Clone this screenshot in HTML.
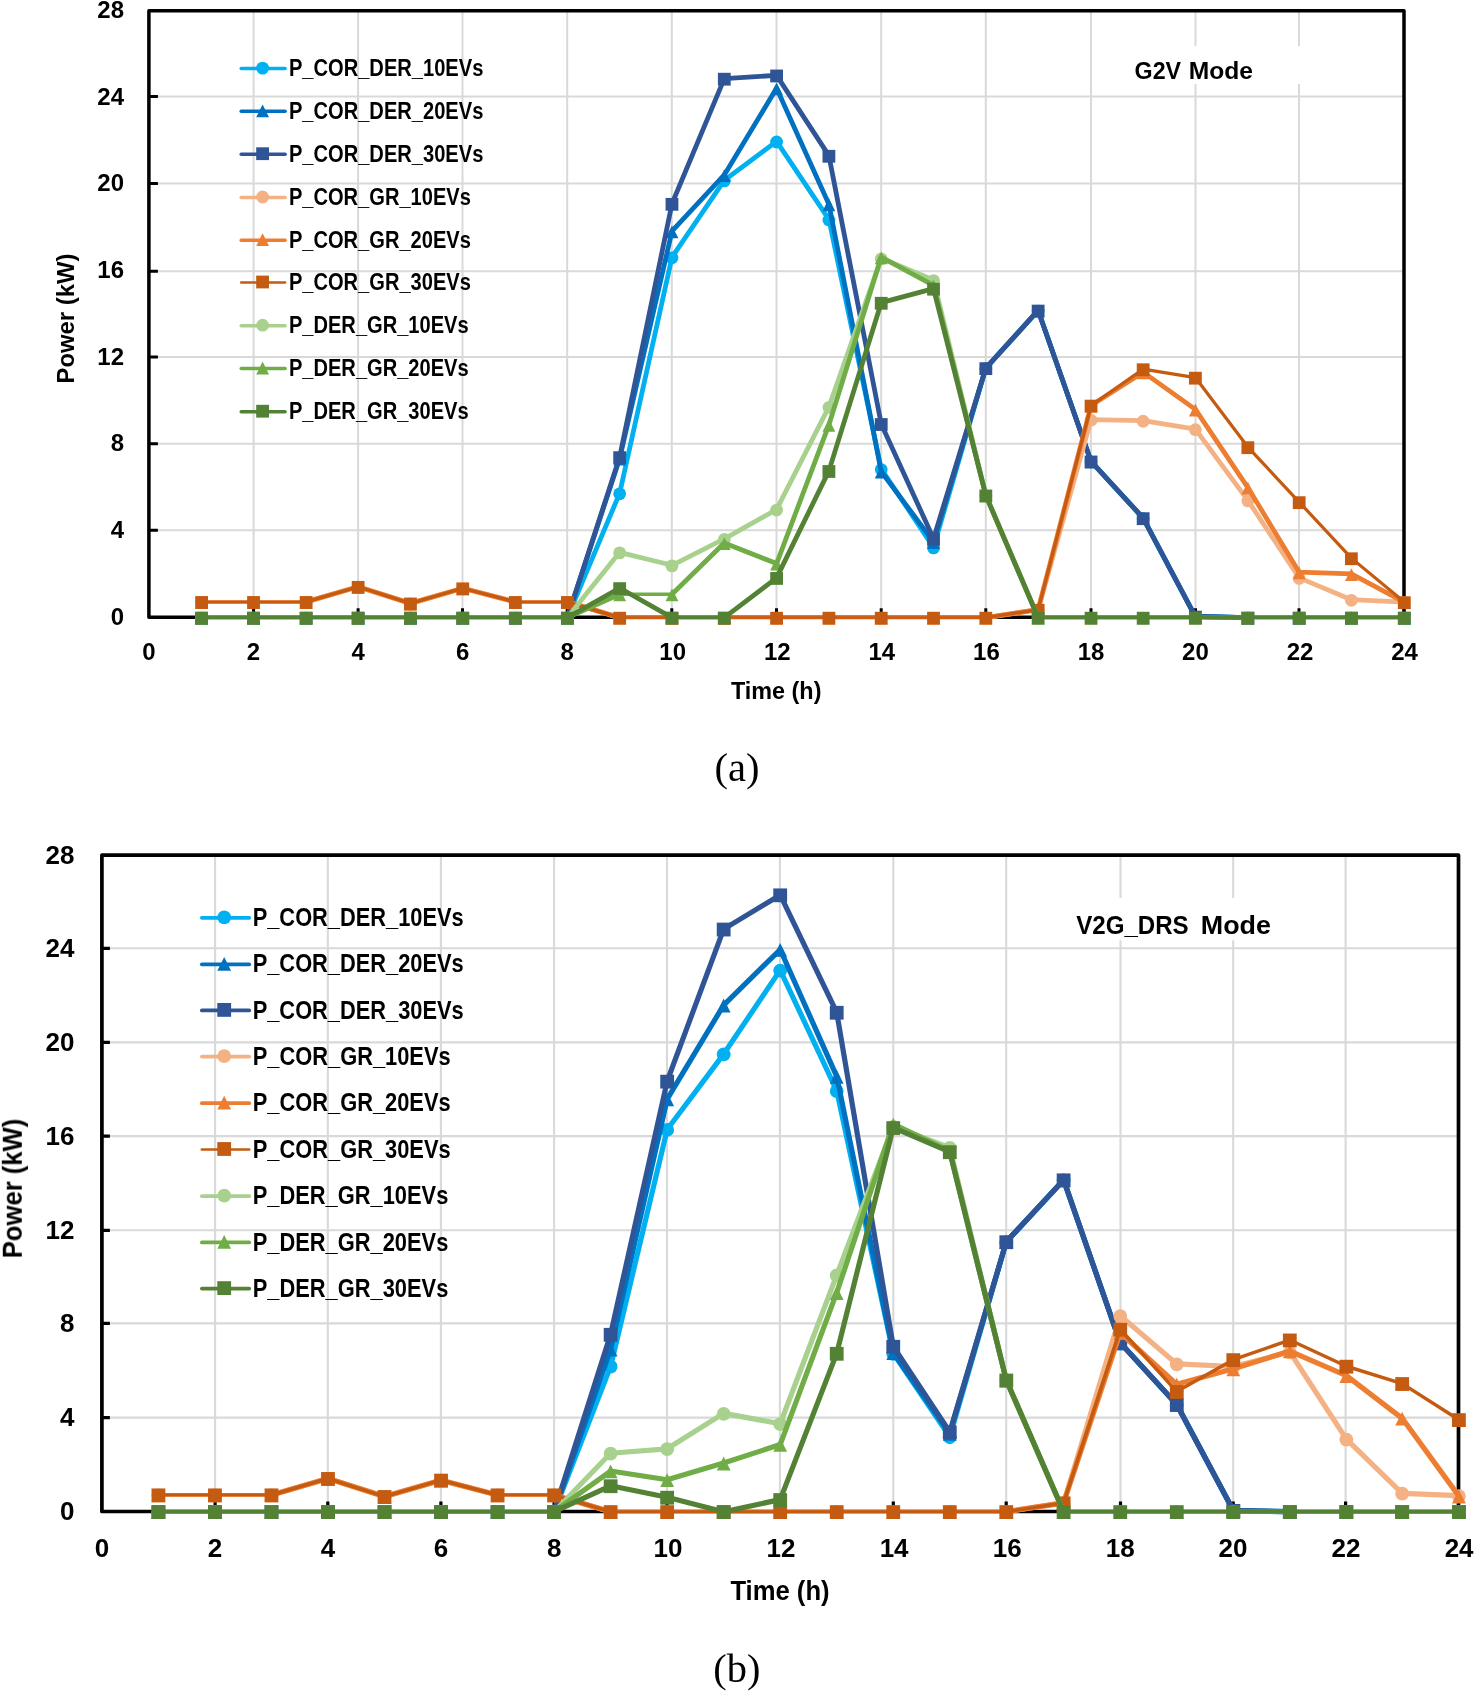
<!DOCTYPE html>
<html><head><meta charset="utf-8"><title>Power flows: G2V and V2G_DRS modes</title>
<style>
html,body{margin:0;padding:0;background:#fff;}
body{width:1474px;height:1691px;overflow:hidden;font-family:"Liberation Sans",sans-serif;}
svg{display:block;}
text{fill:#000;}

</style></head>
<body>
<svg width="1474" height="1691" viewBox="0 0 1474 1691">
<rect width="1474" height="1691" fill="#fff"/>
<g id="chart-a">
<path d="M253.6 10.85V617.3M358.1 10.85V617.3M462.5 10.85V617.3M567.2 10.85V617.3M671.8 10.85V617.3M776.5 10.85V617.3M881.2 10.85V617.3M985.8 10.85V617.3M1091 10.85V617.3M1195.5 10.85V617.3M1299 10.85V617.3M148.9 530.3H1404M148.9 443.7H1404M148.9 356.9H1404M148.9 271.25H1404M148.9 183.45H1404M148.9 96.4H1404" stroke="#D9D9D9" stroke-width="2" fill="none"/>
<rect x="1122" y="46.2" width="200" height="38" fill="#fff"/>
<rect x="148.9" y="10.85" width="1255.1" height="606.45" fill="none" stroke="#000" stroke-width="3.5" stroke-linejoin="round"/>
<path d="M253.6 617.3V608.3M358.1 617.3V608.3M462.5 617.3V608.3M567.2 617.3V608.3M671.8 617.3V608.3M776.5 617.3V608.3M881.2 617.3V608.3M985.8 617.3V608.3M1091 617.3V608.3M1195.5 617.3V608.3M1299 617.3V608.3M148.9 530.3H157.9M148.9 443.7H157.9M148.9 356.9H157.9M148.9 271.25H157.9M148.9 183.45H157.9M148.9 96.4H157.9" stroke="#000" stroke-width="3" fill="none"/>
<g fill="none" stroke="#00B0F0" stroke-linejoin="round" stroke-linecap="round">
<polyline points="201.61,617.6 253.52,617.6 306.12,617.6 358.13,617.6 410.44,617.6 462.75,617.6 515.36,617.6 567.37,617.6" stroke-width="2.6"/>
<polyline points="567.37,617.6 619.67,493.19 671.98,257.21 724.29,180.35 776.6,141.38 828.91,219.32 881.22,468.95 933.52,547.32 985.83,368.06 1038.14,310.47 1091.05,461.37 1143.16,518.09 1195.37,616.52 1247.88,617.6" stroke-width="4.8"/>
<polyline points="1247.88,617.6 1299.18,617.6 1351.39,617.6 1404.3,617.6" stroke-width="2.6"/>
</g><g>
<circle cx="201.61" cy="618.2" r="6.4" fill="#00B0F0"/>
<circle cx="253.52" cy="618.2" r="6.4" fill="#00B0F0"/>
<circle cx="306.12" cy="618.2" r="6.4" fill="#00B0F0"/>
<circle cx="358.13" cy="618.2" r="6.4" fill="#00B0F0"/>
<circle cx="410.44" cy="618.2" r="6.4" fill="#00B0F0"/>
<circle cx="462.75" cy="618.2" r="6.4" fill="#00B0F0"/>
<circle cx="515.36" cy="618.2" r="6.4" fill="#00B0F0"/>
<circle cx="567.37" cy="618.2" r="6.4" fill="#00B0F0"/>
<circle cx="619.67" cy="493.8" r="6.4" fill="#00B0F0"/>
<circle cx="671.98" cy="257.81" r="6.4" fill="#00B0F0"/>
<circle cx="724.29" cy="180.95" r="6.4" fill="#00B0F0"/>
<circle cx="776.6" cy="141.98" r="6.4" fill="#00B0F0"/>
<circle cx="828.91" cy="219.92" r="6.4" fill="#00B0F0"/>
<circle cx="881.22" cy="469.55" r="6.4" fill="#00B0F0"/>
<circle cx="933.52" cy="547.92" r="6.4" fill="#00B0F0"/>
<circle cx="985.83" cy="368.66" r="6.4" fill="#00B0F0"/>
<circle cx="1038.14" cy="311.07" r="6.4" fill="#00B0F0"/>
<circle cx="1091.05" cy="461.97" r="6.4" fill="#00B0F0"/>
<circle cx="1143.16" cy="518.69" r="6.4" fill="#00B0F0"/>
<circle cx="1195.37" cy="617.12" r="6.4" fill="#00B0F0"/>
<circle cx="1247.88" cy="618.2" r="6.4" fill="#00B0F0"/>
<circle cx="1299.18" cy="618.2" r="6.4" fill="#00B0F0"/>
<circle cx="1351.39" cy="618.2" r="6.4" fill="#00B0F0"/>
<circle cx="1404.3" cy="618.2" r="6.4" fill="#00B0F0"/>
</g>
<g fill="none" stroke="#0070C0" stroke-linejoin="round" stroke-linecap="round">
<polyline points="201.61,617.6 253.52,617.6 306.12,617.6 358.13,617.6 410.44,617.6 462.75,617.6 515.36,617.6 567.37,617.6" stroke-width="2.6"/>
<polyline points="567.37,617.6 619.67,458.56 671.98,231.23 724.29,174.94 776.6,88.34 828.91,204.17 881.22,471.55 933.52,541.91 985.83,368.06 1038.14,310.47 1091.05,461.37 1143.16,518.09 1195.37,616.52 1247.88,617.6" stroke-width="4.8"/>
<polyline points="1247.88,617.6 1299.18,617.6 1351.39,617.6 1404.3,617.6" stroke-width="2.6"/>
</g><g>
<path d="M201.61 611.8L208.01 624.6L195.21 624.6Z" fill="#0070C0"/>
<path d="M253.52 611.8L259.92 624.6L247.12 624.6Z" fill="#0070C0"/>
<path d="M306.12 611.8L312.52 624.6L299.73 624.6Z" fill="#0070C0"/>
<path d="M358.13 611.8L364.53 624.6L351.73 624.6Z" fill="#0070C0"/>
<path d="M410.44 611.8L416.84 624.6L404.04 624.6Z" fill="#0070C0"/>
<path d="M462.75 611.8L469.15 624.6L456.35 624.6Z" fill="#0070C0"/>
<path d="M515.36 611.8L521.76 624.6L508.96 624.6Z" fill="#0070C0"/>
<path d="M567.37 611.8L573.77 624.6L560.97 624.6Z" fill="#0070C0"/>
<path d="M619.67 452.76L626.07 465.56L613.27 465.56Z" fill="#0070C0"/>
<path d="M671.98 225.43L678.38 238.23L665.58 238.23Z" fill="#0070C0"/>
<path d="M724.29 169.14L730.69 181.94L717.89 181.94Z" fill="#0070C0"/>
<path d="M776.6 82.54L783 95.34L770.2 95.34Z" fill="#0070C0"/>
<path d="M828.91 198.37L835.31 211.17L822.51 211.17Z" fill="#0070C0"/>
<path d="M881.22 465.75L887.62 478.55L874.82 478.55Z" fill="#0070C0"/>
<path d="M933.52 536.11L939.92 548.91L927.12 548.91Z" fill="#0070C0"/>
<path d="M985.83 362.26L992.23 375.06L979.43 375.06Z" fill="#0070C0"/>
<path d="M1038.14 304.67L1044.54 317.47L1031.74 317.47Z" fill="#0070C0"/>
<path d="M1091.05 455.57L1097.45 468.37L1084.65 468.37Z" fill="#0070C0"/>
<path d="M1143.16 512.29L1149.56 525.09L1136.76 525.09Z" fill="#0070C0"/>
<path d="M1195.37 610.72L1201.77 623.52L1188.97 623.52Z" fill="#0070C0"/>
<path d="M1247.88 611.8L1254.28 624.6L1241.47 624.6Z" fill="#0070C0"/>
<path d="M1299.18 611.8L1305.58 624.6L1292.78 624.6Z" fill="#0070C0"/>
<path d="M1351.39 611.8L1357.79 624.6L1344.99 624.6Z" fill="#0070C0"/>
<path d="M1404.3 611.8L1410.7 624.6L1397.9 624.6Z" fill="#0070C0"/>
</g>
<g fill="none" stroke="#2F5597" stroke-linejoin="round" stroke-linecap="round">
<polyline points="201.61,617.6 253.52,617.6 306.12,617.6 358.13,617.6 410.44,617.6 462.75,617.6 515.36,617.6 567.37,617.6" stroke-width="2.6"/>
<polyline points="567.37,617.6 619.67,457.04 671.98,203.73 724.29,78.6 776.6,75.35 828.91,155.67 881.22,423.91 933.52,538.66 985.83,368.06 1038.14,310.47 1091.05,461.37 1143.16,518.09 1195.37,616.52 1247.88,617.6" stroke-width="4.8"/>
<polyline points="1247.88,617.6 1299.18,617.6 1351.39,617.6 1404.3,617.6" stroke-width="2.6"/>
</g><g>
<rect x="195.21" y="611.8" width="12.8" height="12.8" fill="#2F5597"/>
<rect x="247.12" y="611.8" width="12.8" height="12.8" fill="#2F5597"/>
<rect x="299.73" y="611.8" width="12.8" height="12.8" fill="#2F5597"/>
<rect x="351.73" y="611.8" width="12.8" height="12.8" fill="#2F5597"/>
<rect x="404.04" y="611.8" width="12.8" height="12.8" fill="#2F5597"/>
<rect x="456.35" y="611.8" width="12.8" height="12.8" fill="#2F5597"/>
<rect x="508.96" y="611.8" width="12.8" height="12.8" fill="#2F5597"/>
<rect x="560.97" y="611.8" width="12.8" height="12.8" fill="#2F5597"/>
<rect x="613.27" y="451.24" width="12.8" height="12.8" fill="#2F5597"/>
<rect x="665.58" y="197.93" width="12.8" height="12.8" fill="#2F5597"/>
<rect x="717.89" y="72.8" width="12.8" height="12.8" fill="#2F5597"/>
<rect x="770.2" y="69.55" width="12.8" height="12.8" fill="#2F5597"/>
<rect x="822.51" y="149.87" width="12.8" height="12.8" fill="#2F5597"/>
<rect x="874.82" y="418.12" width="12.8" height="12.8" fill="#2F5597"/>
<rect x="927.12" y="532.86" width="12.8" height="12.8" fill="#2F5597"/>
<rect x="979.43" y="362.26" width="12.8" height="12.8" fill="#2F5597"/>
<rect x="1031.74" y="304.67" width="12.8" height="12.8" fill="#2F5597"/>
<rect x="1084.65" y="455.57" width="12.8" height="12.8" fill="#2F5597"/>
<rect x="1136.76" y="512.29" width="12.8" height="12.8" fill="#2F5597"/>
<rect x="1188.97" y="610.72" width="12.8" height="12.8" fill="#2F5597"/>
<rect x="1241.47" y="611.8" width="12.8" height="12.8" fill="#2F5597"/>
<rect x="1292.78" y="611.8" width="12.8" height="12.8" fill="#2F5597"/>
<rect x="1344.99" y="611.8" width="12.8" height="12.8" fill="#2F5597"/>
<rect x="1397.9" y="611.8" width="12.8" height="12.8" fill="#2F5597"/>
</g>
<g fill="none" stroke="#F4B183" stroke-linejoin="round" stroke-linecap="round">
<polyline points="201.61,601.88 253.52,601.88 306.12,601.88" stroke-width="3.5"/>
<polyline points="306.12,601.88 358.13,586.72 410.44,603.39 462.75,588.24 515.36,601.88" stroke-width="4.8"/>
<polyline points="515.36,601.88 567.37,601.88" stroke-width="3.5"/>
<polyline points="567.37,601.88 619.67,617.6" stroke-width="4.8"/>
<polyline points="619.67,617.6 671.98,617.6 724.29,617.6 776.6,617.6 828.91,617.6 881.22,617.6 933.52,617.6 985.83,617.6" stroke-width="3.5"/>
<polyline points="985.83,617.6 1038.14,609.67 1091.05,419.59 1143.16,420.67 1195.37,429.11 1247.88,500.34 1299.18,577.85 1351.39,599.71 1404.3,602.09" stroke-width="4.8"/>
</g><g>
<circle cx="201.61" cy="602.48" r="6.4" fill="#F4B183"/>
<circle cx="253.52" cy="602.48" r="6.4" fill="#F4B183"/>
<circle cx="306.12" cy="602.48" r="6.4" fill="#F4B183"/>
<circle cx="358.13" cy="587.32" r="6.4" fill="#F4B183"/>
<circle cx="410.44" cy="603.99" r="6.4" fill="#F4B183"/>
<circle cx="462.75" cy="588.84" r="6.4" fill="#F4B183"/>
<circle cx="515.36" cy="602.48" r="6.4" fill="#F4B183"/>
<circle cx="567.37" cy="602.48" r="6.4" fill="#F4B183"/>
<circle cx="619.67" cy="618.2" r="6.4" fill="#F4B183"/>
<circle cx="671.98" cy="618.2" r="6.4" fill="#F4B183"/>
<circle cx="724.29" cy="618.2" r="6.4" fill="#F4B183"/>
<circle cx="776.6" cy="618.2" r="6.4" fill="#F4B183"/>
<circle cx="828.91" cy="618.2" r="6.4" fill="#F4B183"/>
<circle cx="881.22" cy="618.2" r="6.4" fill="#F4B183"/>
<circle cx="933.52" cy="618.2" r="6.4" fill="#F4B183"/>
<circle cx="985.83" cy="618.2" r="6.4" fill="#F4B183"/>
<circle cx="1038.14" cy="610.27" r="6.4" fill="#F4B183"/>
<circle cx="1091.05" cy="420.19" r="6.4" fill="#F4B183"/>
<circle cx="1143.16" cy="421.27" r="6.4" fill="#F4B183"/>
<circle cx="1195.37" cy="429.71" r="6.4" fill="#F4B183"/>
<circle cx="1247.88" cy="500.94" r="6.4" fill="#F4B183"/>
<circle cx="1299.18" cy="578.45" r="6.4" fill="#F4B183"/>
<circle cx="1351.39" cy="600.31" r="6.4" fill="#F4B183"/>
<circle cx="1404.3" cy="602.69" r="6.4" fill="#F4B183"/>
</g>
<g fill="none" stroke="#ED7D31" stroke-linejoin="round" stroke-linecap="round">
<polyline points="201.61,601.88 253.52,601.88 306.12,601.88" stroke-width="3.5"/>
<polyline points="306.12,601.88 358.13,586.72 410.44,603.39 462.75,588.24 515.36,601.88" stroke-width="4.8"/>
<polyline points="515.36,601.88 567.37,601.88" stroke-width="3.5"/>
<polyline points="567.37,601.88 619.67,617.6" stroke-width="4.8"/>
<polyline points="619.67,617.6 671.98,617.6 724.29,617.6 776.6,617.6 828.91,617.6 881.22,617.6 933.52,617.6 985.83,617.6" stroke-width="3.5"/>
<polyline points="985.83,617.6 1038.14,609.67 1091.05,405.51 1143.16,372.17 1195.37,409.41 1247.88,487.57 1299.18,572.22 1351.39,573.95 1404.3,602.09" stroke-width="4.8"/>
</g><g>
<path d="M201.61 596.08L208.01 608.88L195.21 608.88Z" fill="#ED7D31"/>
<path d="M253.52 596.08L259.92 608.88L247.12 608.88Z" fill="#ED7D31"/>
<path d="M306.12 596.08L312.52 608.88L299.73 608.88Z" fill="#ED7D31"/>
<path d="M358.13 580.92L364.53 593.72L351.73 593.72Z" fill="#ED7D31"/>
<path d="M410.44 597.59L416.84 610.39L404.04 610.39Z" fill="#ED7D31"/>
<path d="M462.75 582.44L469.15 595.24L456.35 595.24Z" fill="#ED7D31"/>
<path d="M515.36 596.08L521.76 608.88L508.96 608.88Z" fill="#ED7D31"/>
<path d="M567.37 596.08L573.77 608.88L560.97 608.88Z" fill="#ED7D31"/>
<path d="M619.67 611.8L626.07 624.6L613.27 624.6Z" fill="#ED7D31"/>
<path d="M671.98 611.8L678.38 624.6L665.58 624.6Z" fill="#ED7D31"/>
<path d="M724.29 611.8L730.69 624.6L717.89 624.6Z" fill="#ED7D31"/>
<path d="M776.6 611.8L783 624.6L770.2 624.6Z" fill="#ED7D31"/>
<path d="M828.91 611.8L835.31 624.6L822.51 624.6Z" fill="#ED7D31"/>
<path d="M881.22 611.8L887.62 624.6L874.82 624.6Z" fill="#ED7D31"/>
<path d="M933.52 611.8L939.92 624.6L927.12 624.6Z" fill="#ED7D31"/>
<path d="M985.83 611.8L992.23 624.6L979.43 624.6Z" fill="#ED7D31"/>
<path d="M1038.14 603.87L1044.54 616.67L1031.74 616.67Z" fill="#ED7D31"/>
<path d="M1091.05 399.71L1097.45 412.51L1084.65 412.51Z" fill="#ED7D31"/>
<path d="M1143.16 366.37L1149.56 379.17L1136.76 379.17Z" fill="#ED7D31"/>
<path d="M1195.37 403.61L1201.77 416.41L1188.97 416.41Z" fill="#ED7D31"/>
<path d="M1247.88 481.77L1254.28 494.57L1241.47 494.57Z" fill="#ED7D31"/>
<path d="M1299.18 566.42L1305.58 579.22L1292.78 579.22Z" fill="#ED7D31"/>
<path d="M1351.39 568.15L1357.79 580.95L1344.99 580.95Z" fill="#ED7D31"/>
<path d="M1404.3 596.29L1410.7 609.09L1397.9 609.09Z" fill="#ED7D31"/>
</g>
<g fill="none" stroke="#C55A11" stroke-linejoin="round" stroke-linecap="round">
<polyline points="201.61,601.88 253.52,601.88 306.12,601.88" stroke-width="2.5"/>
<polyline points="306.12,601.88 358.13,586.72 410.44,603.39 462.75,588.24 515.36,601.88" stroke-width="3.2"/>
<polyline points="515.36,601.88 567.37,601.88" stroke-width="2.5"/>
<polyline points="567.37,601.88 619.67,617.6" stroke-width="3.2"/>
<polyline points="619.67,617.6 671.98,617.6 724.29,617.6 776.6,617.6 828.91,617.6 881.22,617.6 933.52,617.6 985.83,617.6" stroke-width="2.5"/>
<polyline points="985.83,617.6 1038.14,609.67 1091.05,405.51 1143.16,369.14 1195.37,377.58 1247.88,447.08 1299.18,502.07 1351.39,558.14 1404.3,602.09" stroke-width="3.2"/>
</g><g>
<rect x="195.21" y="596.08" width="12.8" height="12.8" fill="#C55A11"/>
<rect x="247.12" y="596.08" width="12.8" height="12.8" fill="#C55A11"/>
<rect x="299.73" y="596.08" width="12.8" height="12.8" fill="#C55A11"/>
<rect x="351.73" y="580.92" width="12.8" height="12.8" fill="#C55A11"/>
<rect x="404.04" y="597.59" width="12.8" height="12.8" fill="#C55A11"/>
<rect x="456.35" y="582.44" width="12.8" height="12.8" fill="#C55A11"/>
<rect x="508.96" y="596.08" width="12.8" height="12.8" fill="#C55A11"/>
<rect x="560.97" y="596.08" width="12.8" height="12.8" fill="#C55A11"/>
<rect x="613.27" y="611.8" width="12.8" height="12.8" fill="#C55A11"/>
<rect x="665.58" y="611.8" width="12.8" height="12.8" fill="#C55A11"/>
<rect x="717.89" y="611.8" width="12.8" height="12.8" fill="#C55A11"/>
<rect x="770.2" y="611.8" width="12.8" height="12.8" fill="#C55A11"/>
<rect x="822.51" y="611.8" width="12.8" height="12.8" fill="#C55A11"/>
<rect x="874.82" y="611.8" width="12.8" height="12.8" fill="#C55A11"/>
<rect x="927.12" y="611.8" width="12.8" height="12.8" fill="#C55A11"/>
<rect x="979.43" y="611.8" width="12.8" height="12.8" fill="#C55A11"/>
<rect x="1031.74" y="603.87" width="12.8" height="12.8" fill="#C55A11"/>
<rect x="1084.65" y="399.71" width="12.8" height="12.8" fill="#C55A11"/>
<rect x="1136.76" y="363.34" width="12.8" height="12.8" fill="#C55A11"/>
<rect x="1188.97" y="371.78" width="12.8" height="12.8" fill="#C55A11"/>
<rect x="1241.47" y="441.28" width="12.8" height="12.8" fill="#C55A11"/>
<rect x="1292.78" y="496.27" width="12.8" height="12.8" fill="#C55A11"/>
<rect x="1344.99" y="552.35" width="12.8" height="12.8" fill="#C55A11"/>
<rect x="1397.9" y="596.29" width="12.8" height="12.8" fill="#C55A11"/>
</g>
<g fill="none" stroke="#A9D18E" stroke-linejoin="round" stroke-linecap="round">
<polyline points="201.61,617.6 253.52,617.6 306.12,617.6 358.13,617.6 410.44,617.6 462.75,617.6 515.36,617.6 567.37,617.6" stroke-width="3.5"/>
<polyline points="567.37,617.6 619.67,552.3 671.98,565.29 724.29,538.88 776.6,509.43 828.91,406.81 881.22,258.29 933.52,279.94 985.83,495.36 1038.14,617.6" stroke-width="4.8"/>
<polyline points="1038.14,617.6 1091.05,617.6 1143.16,617.6 1195.37,617.6 1247.88,617.6 1299.18,617.6 1351.39,617.6 1404.3,617.6" stroke-width="3.5"/>
</g><g>
<circle cx="201.61" cy="618.2" r="6.4" fill="#A9D18E"/>
<circle cx="253.52" cy="618.2" r="6.4" fill="#A9D18E"/>
<circle cx="306.12" cy="618.2" r="6.4" fill="#A9D18E"/>
<circle cx="358.13" cy="618.2" r="6.4" fill="#A9D18E"/>
<circle cx="410.44" cy="618.2" r="6.4" fill="#A9D18E"/>
<circle cx="462.75" cy="618.2" r="6.4" fill="#A9D18E"/>
<circle cx="515.36" cy="618.2" r="6.4" fill="#A9D18E"/>
<circle cx="567.37" cy="618.2" r="6.4" fill="#A9D18E"/>
<circle cx="619.67" cy="552.9" r="6.4" fill="#A9D18E"/>
<circle cx="671.98" cy="565.89" r="6.4" fill="#A9D18E"/>
<circle cx="724.29" cy="539.48" r="6.4" fill="#A9D18E"/>
<circle cx="776.6" cy="510.03" r="6.4" fill="#A9D18E"/>
<circle cx="828.91" cy="407.41" r="6.4" fill="#A9D18E"/>
<circle cx="881.22" cy="258.89" r="6.4" fill="#A9D18E"/>
<circle cx="933.52" cy="280.54" r="6.4" fill="#A9D18E"/>
<circle cx="985.83" cy="495.96" r="6.4" fill="#A9D18E"/>
<circle cx="1038.14" cy="618.2" r="6.4" fill="#A9D18E"/>
<circle cx="1091.05" cy="618.2" r="6.4" fill="#A9D18E"/>
<circle cx="1143.16" cy="618.2" r="6.4" fill="#A9D18E"/>
<circle cx="1195.37" cy="618.2" r="6.4" fill="#A9D18E"/>
<circle cx="1247.88" cy="618.2" r="6.4" fill="#A9D18E"/>
<circle cx="1299.18" cy="618.2" r="6.4" fill="#A9D18E"/>
<circle cx="1351.39" cy="618.2" r="6.4" fill="#A9D18E"/>
<circle cx="1404.3" cy="618.2" r="6.4" fill="#A9D18E"/>
</g>
<g fill="none" stroke="#70AD47" stroke-linejoin="round" stroke-linecap="round">
<polyline points="201.61,617.6 253.52,617.6 306.12,617.6 358.13,617.6 410.44,617.6 462.75,617.6 515.36,617.6 567.37,617.6" stroke-width="3.5"/>
<polyline points="567.37,617.6 619.67,594.3" stroke-width="4.8"/>
<polyline points="619.67,594.3 671.98,594.3" stroke-width="3.5"/>
<polyline points="671.98,594.3 724.29,542.99 776.6,563.56 828.91,424.78 881.22,257.21 933.52,285.35 985.83,495.36 1038.14,617.6" stroke-width="4.8"/>
<polyline points="1038.14,617.6 1091.05,617.6 1143.16,617.6 1195.37,617.6 1247.88,617.6 1299.18,617.6 1351.39,617.6 1404.3,617.6" stroke-width="3.5"/>
</g><g>
<path d="M201.61 611.8L208.01 624.6L195.21 624.6Z" fill="#70AD47"/>
<path d="M253.52 611.8L259.92 624.6L247.12 624.6Z" fill="#70AD47"/>
<path d="M306.12 611.8L312.52 624.6L299.73 624.6Z" fill="#70AD47"/>
<path d="M358.13 611.8L364.53 624.6L351.73 624.6Z" fill="#70AD47"/>
<path d="M410.44 611.8L416.84 624.6L404.04 624.6Z" fill="#70AD47"/>
<path d="M462.75 611.8L469.15 624.6L456.35 624.6Z" fill="#70AD47"/>
<path d="M515.36 611.8L521.76 624.6L508.96 624.6Z" fill="#70AD47"/>
<path d="M567.37 611.8L573.77 624.6L560.97 624.6Z" fill="#70AD47"/>
<path d="M619.67 588.5L626.07 601.3L613.27 601.3Z" fill="#70AD47"/>
<path d="M671.98 588.5L678.38 601.3L665.58 601.3Z" fill="#70AD47"/>
<path d="M724.29 537.19L730.69 549.99L717.89 549.99Z" fill="#70AD47"/>
<path d="M776.6 557.76L783 570.56L770.2 570.56Z" fill="#70AD47"/>
<path d="M828.91 418.98L835.31 431.78L822.51 431.78Z" fill="#70AD47"/>
<path d="M881.22 251.41L887.62 264.21L874.82 264.21Z" fill="#70AD47"/>
<path d="M933.52 279.56L939.92 292.35L927.12 292.35Z" fill="#70AD47"/>
<path d="M985.83 489.56L992.23 502.36L979.43 502.36Z" fill="#70AD47"/>
<path d="M1038.14 611.8L1044.54 624.6L1031.74 624.6Z" fill="#70AD47"/>
<path d="M1091.05 611.8L1097.45 624.6L1084.65 624.6Z" fill="#70AD47"/>
<path d="M1143.16 611.8L1149.56 624.6L1136.76 624.6Z" fill="#70AD47"/>
<path d="M1195.37 611.8L1201.77 624.6L1188.97 624.6Z" fill="#70AD47"/>
<path d="M1247.88 611.8L1254.28 624.6L1241.47 624.6Z" fill="#70AD47"/>
<path d="M1299.18 611.8L1305.58 624.6L1292.78 624.6Z" fill="#70AD47"/>
<path d="M1351.39 611.8L1357.79 624.6L1344.99 624.6Z" fill="#70AD47"/>
<path d="M1404.3 611.8L1410.7 624.6L1397.9 624.6Z" fill="#70AD47"/>
</g>
<g fill="none" stroke="#548235" stroke-linejoin="round" stroke-linecap="round">
<polyline points="201.61,617.6 253.52,617.6 306.12,617.6 358.13,617.6 410.44,617.6 462.75,617.6 515.36,617.6 567.37,617.6" stroke-width="3.5"/>
<polyline points="567.37,617.6 619.67,588.02 671.98,617.6" stroke-width="4.8"/>
<polyline points="671.98,617.6 724.29,617.6" stroke-width="3.5"/>
<polyline points="724.29,617.6 776.6,577.85 828.91,470.9 881.22,302.68 933.52,288.6 985.83,495.36 1038.14,617.6" stroke-width="4.8"/>
<polyline points="1038.14,617.6 1091.05,617.6 1143.16,617.6 1195.37,617.6 1247.88,617.6 1299.18,617.6 1351.39,617.6 1404.3,617.6" stroke-width="3.5"/>
</g><g>
<rect x="195.21" y="611.8" width="12.8" height="12.8" fill="#548235"/>
<rect x="247.12" y="611.8" width="12.8" height="12.8" fill="#548235"/>
<rect x="299.73" y="611.8" width="12.8" height="12.8" fill="#548235"/>
<rect x="351.73" y="611.8" width="12.8" height="12.8" fill="#548235"/>
<rect x="404.04" y="611.8" width="12.8" height="12.8" fill="#548235"/>
<rect x="456.35" y="611.8" width="12.8" height="12.8" fill="#548235"/>
<rect x="508.96" y="611.8" width="12.8" height="12.8" fill="#548235"/>
<rect x="560.97" y="611.8" width="12.8" height="12.8" fill="#548235"/>
<rect x="613.27" y="582.22" width="12.8" height="12.8" fill="#548235"/>
<rect x="665.58" y="611.8" width="12.8" height="12.8" fill="#548235"/>
<rect x="717.89" y="611.8" width="12.8" height="12.8" fill="#548235"/>
<rect x="770.2" y="572.05" width="12.8" height="12.8" fill="#548235"/>
<rect x="822.51" y="465.1" width="12.8" height="12.8" fill="#548235"/>
<rect x="874.82" y="296.88" width="12.8" height="12.8" fill="#548235"/>
<rect x="927.12" y="282.8" width="12.8" height="12.8" fill="#548235"/>
<rect x="979.43" y="489.56" width="12.8" height="12.8" fill="#548235"/>
<rect x="1031.74" y="611.8" width="12.8" height="12.8" fill="#548235"/>
<rect x="1084.65" y="611.8" width="12.8" height="12.8" fill="#548235"/>
<rect x="1136.76" y="611.8" width="12.8" height="12.8" fill="#548235"/>
<rect x="1188.97" y="611.8" width="12.8" height="12.8" fill="#548235"/>
<rect x="1241.47" y="611.8" width="12.8" height="12.8" fill="#548235"/>
<rect x="1292.78" y="611.8" width="12.8" height="12.8" fill="#548235"/>
<rect x="1344.99" y="611.8" width="12.8" height="12.8" fill="#548235"/>
<rect x="1397.9" y="611.8" width="12.8" height="12.8" fill="#548235"/>
</g>
<path d="M241.2 68.6H285.1" stroke="#00B0F0" stroke-width="3.5" stroke-linecap="round"/>
<circle cx="262.6" cy="68.1" r="6.4" fill="#00B0F0"/>
<path d="M241.2 111.3H285.1" stroke="#0070C0" stroke-width="3.5" stroke-linecap="round"/>
<path d="M262.6 104.4L269 117.2L256.2 117.2Z" fill="#0070C0"/>
<path d="M241.2 154.2H285.1" stroke="#2F5597" stroke-width="3.5" stroke-linecap="round"/>
<rect x="256.2" y="147.3" width="12.8" height="12.8" fill="#2F5597"/>
<path d="M241.2 197.5H285.1" stroke="#F4B183" stroke-width="3.5" stroke-linecap="round"/>
<circle cx="262.6" cy="197" r="6.4" fill="#F4B183"/>
<path d="M241.2 240.2H285.1" stroke="#ED7D31" stroke-width="3.5" stroke-linecap="round"/>
<path d="M262.6 233.3L269 246.1L256.2 246.1Z" fill="#ED7D31"/>
<path d="M241.2 282.5H285.1" stroke="#C55A11" stroke-width="2.5" stroke-linecap="round"/>
<rect x="256.2" y="275.6" width="12.8" height="12.8" fill="#C55A11"/>
<path d="M241.2 325.7H285.1" stroke="#A9D18E" stroke-width="3.5" stroke-linecap="round"/>
<circle cx="262.6" cy="325.2" r="6.4" fill="#A9D18E"/>
<path d="M241.2 368.5H285.1" stroke="#70AD47" stroke-width="3.5" stroke-linecap="round"/>
<path d="M262.6 361.6L269 374.4L256.2 374.4Z" fill="#70AD47"/>
<path d="M241.2 411.7H285.1" stroke="#548235" stroke-width="3.5" stroke-linecap="round"/>
<rect x="256.2" y="404.8" width="12.8" height="12.8" fill="#548235"/>
</g>
<g id="chart-b">
<path d="M215.1 855.15V1511.5M327.8 855.15V1511.5M440.9 855.15V1511.5M554.1 855.15V1511.5M667 855.15V1511.5M779.9 855.15V1511.5M893.3 855.15V1511.5M1006.2 855.15V1511.5M1120.5 855.15V1511.5M1233.2 855.15V1511.5M1345.6 855.15V1511.5M101.9 1417.6H1458.5M101.9 1323.4H1458.5M101.9 1230.3H1458.5M101.9 1136.15H1458.5M101.9 1042.4H1458.5M101.9 948.3H1458.5" stroke="#D9D9D9" stroke-width="2.1" fill="none"/>
<rect x="1064" y="898" width="225" height="42.3" fill="#fff"/>
<rect x="101.9" y="855.15" width="1356.6" height="656.35" fill="none" stroke="#000" stroke-width="3.7" stroke-linejoin="round"/>
<path d="M215.1 1511.5V1501.5M327.8 1511.5V1501.5M440.9 1511.5V1501.5M554.1 1511.5V1501.5M667 1511.5V1501.5M779.9 1511.5V1501.5M893.3 1511.5V1501.5M1006.2 1511.5V1501.5M1120.5 1511.5V1501.5M1233.2 1511.5V1501.5M1345.6 1511.5V1501.5M101.9 1417.6H109.9M101.9 1323.4H109.9M101.9 1230.3H109.9M101.9 1136.15H109.9M101.9 1042.4H109.9M101.9 948.3H109.9" stroke="#000" stroke-width="3.2" fill="none"/>
<g fill="none" stroke="#00B0F0" stroke-linejoin="round" stroke-linecap="round">
<polyline points="158.43,1511.7 214.95,1511.7 271.48,1511.7 328,1511.7 384.52,1511.7 441.05,1511.7 497.58,1511.7 554.1,1511.7" stroke-width="2.9"/>
<polyline points="554.1,1511.7 610.62,1366.28 667.15,1129.54 723.67,1054.07 780.2,970.16 836.72,1090.63 893.25,1353.39 949.77,1436.83 1006.3,1241.82 1063.62,1179.94 1120.25,1342.84 1176.78,1404.49 1233.3,1510.53 1289.83,1511.7" stroke-width="5.2"/>
<polyline points="1289.83,1511.7 1346.35,1511.7 1402.18,1511.7 1458.9,1511.7" stroke-width="2.9"/>
</g><g>
<circle cx="158.43" cy="1512.1" r="6.9" fill="#00B0F0"/>
<circle cx="214.95" cy="1512.1" r="6.9" fill="#00B0F0"/>
<circle cx="271.48" cy="1512.1" r="6.9" fill="#00B0F0"/>
<circle cx="328" cy="1512.1" r="6.9" fill="#00B0F0"/>
<circle cx="384.52" cy="1512.1" r="6.9" fill="#00B0F0"/>
<circle cx="441.05" cy="1512.1" r="6.9" fill="#00B0F0"/>
<circle cx="497.58" cy="1512.1" r="6.9" fill="#00B0F0"/>
<circle cx="554.1" cy="1512.1" r="6.9" fill="#00B0F0"/>
<circle cx="610.62" cy="1366.68" r="6.9" fill="#00B0F0"/>
<circle cx="667.15" cy="1129.94" r="6.9" fill="#00B0F0"/>
<circle cx="723.67" cy="1054.47" r="6.9" fill="#00B0F0"/>
<circle cx="780.2" cy="970.56" r="6.9" fill="#00B0F0"/>
<circle cx="836.72" cy="1091.03" r="6.9" fill="#00B0F0"/>
<circle cx="893.25" cy="1353.79" r="6.9" fill="#00B0F0"/>
<circle cx="949.77" cy="1437.23" r="6.9" fill="#00B0F0"/>
<circle cx="1006.3" cy="1242.22" r="6.9" fill="#00B0F0"/>
<circle cx="1063.62" cy="1180.34" r="6.9" fill="#00B0F0"/>
<circle cx="1120.25" cy="1343.24" r="6.9" fill="#00B0F0"/>
<circle cx="1176.78" cy="1404.89" r="6.9" fill="#00B0F0"/>
<circle cx="1233.3" cy="1510.93" r="6.9" fill="#00B0F0"/>
<circle cx="1289.83" cy="1512.1" r="6.9" fill="#00B0F0"/>
<circle cx="1346.35" cy="1512.1" r="6.9" fill="#00B0F0"/>
<circle cx="1402.18" cy="1512.1" r="6.9" fill="#00B0F0"/>
<circle cx="1458.9" cy="1512.1" r="6.9" fill="#00B0F0"/>
</g>
<g fill="none" stroke="#0070C0" stroke-linejoin="round" stroke-linecap="round">
<polyline points="158.43,1511.7 214.95,1511.7 271.48,1511.7 328,1511.7 384.52,1511.7 441.05,1511.7 497.58,1511.7 554.1,1511.7" stroke-width="2.9"/>
<polyline points="554.1,1511.7 610.62,1349.17 667.15,1099.07 723.67,1005.08 780.2,949.53 836.72,1076.34 893.25,1352.68 949.77,1433.55 1006.3,1241.82 1063.62,1179.94 1120.25,1342.84 1176.78,1404.49 1233.3,1510.53 1289.83,1511.7" stroke-width="5.2"/>
<polyline points="1289.83,1511.7 1346.35,1511.7 1402.18,1511.7 1458.9,1511.7" stroke-width="2.9"/>
</g><g>
<path d="M158.43 1505.2L165.33 1519L151.53 1519Z" fill="#0070C0"/>
<path d="M214.95 1505.2L221.85 1519L208.05 1519Z" fill="#0070C0"/>
<path d="M271.48 1505.2L278.38 1519L264.58 1519Z" fill="#0070C0"/>
<path d="M328 1505.2L334.9 1519L321.1 1519Z" fill="#0070C0"/>
<path d="M384.52 1505.2L391.42 1519L377.62 1519Z" fill="#0070C0"/>
<path d="M441.05 1505.2L447.95 1519L434.15 1519Z" fill="#0070C0"/>
<path d="M497.58 1505.2L504.48 1519L490.68 1519Z" fill="#0070C0"/>
<path d="M554.1 1505.2L561 1519L547.2 1519Z" fill="#0070C0"/>
<path d="M610.62 1342.67L617.52 1356.47L603.73 1356.47Z" fill="#0070C0"/>
<path d="M667.15 1092.57L674.05 1106.37L660.25 1106.37Z" fill="#0070C0"/>
<path d="M723.67 998.58L730.57 1012.38L716.77 1012.38Z" fill="#0070C0"/>
<path d="M780.2 943.03L787.1 956.83L773.3 956.83Z" fill="#0070C0"/>
<path d="M836.72 1069.84L843.62 1083.64L829.82 1083.64Z" fill="#0070C0"/>
<path d="M893.25 1346.18L900.15 1359.98L886.35 1359.98Z" fill="#0070C0"/>
<path d="M949.77 1427.05L956.67 1440.85L942.88 1440.85Z" fill="#0070C0"/>
<path d="M1006.3 1235.32L1013.2 1249.12L999.4 1249.12Z" fill="#0070C0"/>
<path d="M1063.62 1173.44L1070.53 1187.24L1056.72 1187.24Z" fill="#0070C0"/>
<path d="M1120.25 1336.34L1127.15 1350.14L1113.35 1350.14Z" fill="#0070C0"/>
<path d="M1176.78 1397.99L1183.68 1411.79L1169.88 1411.79Z" fill="#0070C0"/>
<path d="M1233.3 1504.03L1240.2 1517.83L1226.4 1517.83Z" fill="#0070C0"/>
<path d="M1289.83 1505.2L1296.73 1519L1282.92 1519Z" fill="#0070C0"/>
<path d="M1346.35 1505.2L1353.25 1519L1339.45 1519Z" fill="#0070C0"/>
<path d="M1402.18 1505.2L1409.08 1519L1395.28 1519Z" fill="#0070C0"/>
<path d="M1458.9 1505.2L1465.8 1519L1452 1519Z" fill="#0070C0"/>
</g>
<g fill="none" stroke="#2F5597" stroke-linejoin="round" stroke-linecap="round">
<polyline points="158.43,1511.7 214.95,1511.7 271.48,1511.7 328,1511.7 384.52,1511.7 441.05,1511.7 497.58,1511.7 554.1,1511.7" stroke-width="2.9"/>
<polyline points="554.1,1511.7 610.62,1334.4 667.15,1081.26 723.67,929.14 780.2,894.92 836.72,1012.35 893.25,1346.36 949.77,1431.91 1006.3,1241.82 1063.62,1179.94 1120.25,1342.84 1176.78,1404.49 1233.3,1510.53 1289.83,1511.7" stroke-width="5.2"/>
<polyline points="1289.83,1511.7 1346.35,1511.7 1402.18,1511.7 1458.9,1511.7" stroke-width="2.9"/>
</g><g>
<rect x="151.53" y="1505.2" width="13.8" height="13.8" fill="#2F5597"/>
<rect x="208.05" y="1505.2" width="13.8" height="13.8" fill="#2F5597"/>
<rect x="264.58" y="1505.2" width="13.8" height="13.8" fill="#2F5597"/>
<rect x="321.1" y="1505.2" width="13.8" height="13.8" fill="#2F5597"/>
<rect x="377.62" y="1505.2" width="13.8" height="13.8" fill="#2F5597"/>
<rect x="434.15" y="1505.2" width="13.8" height="13.8" fill="#2F5597"/>
<rect x="490.68" y="1505.2" width="13.8" height="13.8" fill="#2F5597"/>
<rect x="547.2" y="1505.2" width="13.8" height="13.8" fill="#2F5597"/>
<rect x="603.73" y="1327.9" width="13.8" height="13.8" fill="#2F5597"/>
<rect x="660.25" y="1074.76" width="13.8" height="13.8" fill="#2F5597"/>
<rect x="716.77" y="922.64" width="13.8" height="13.8" fill="#2F5597"/>
<rect x="773.3" y="888.42" width="13.8" height="13.8" fill="#2F5597"/>
<rect x="829.82" y="1005.85" width="13.8" height="13.8" fill="#2F5597"/>
<rect x="886.35" y="1339.86" width="13.8" height="13.8" fill="#2F5597"/>
<rect x="942.88" y="1425.41" width="13.8" height="13.8" fill="#2F5597"/>
<rect x="999.4" y="1235.32" width="13.8" height="13.8" fill="#2F5597"/>
<rect x="1056.72" y="1173.44" width="13.8" height="13.8" fill="#2F5597"/>
<rect x="1113.35" y="1336.34" width="13.8" height="13.8" fill="#2F5597"/>
<rect x="1169.88" y="1397.99" width="13.8" height="13.8" fill="#2F5597"/>
<rect x="1226.4" y="1504.03" width="13.8" height="13.8" fill="#2F5597"/>
<rect x="1282.92" y="1505.2" width="13.8" height="13.8" fill="#2F5597"/>
<rect x="1339.45" y="1505.2" width="13.8" height="13.8" fill="#2F5597"/>
<rect x="1395.28" y="1505.2" width="13.8" height="13.8" fill="#2F5597"/>
<rect x="1452" y="1505.2" width="13.8" height="13.8" fill="#2F5597"/>
</g>
<g fill="none" stroke="#F4B183" stroke-linejoin="round" stroke-linecap="round">
<polyline points="158.43,1494.96 214.95,1494.96 271.48,1494.96" stroke-width="3.8"/>
<polyline points="271.48,1494.96 328,1478.55 384.52,1496.6 441.05,1480.19 497.58,1494.96" stroke-width="5.2"/>
<polyline points="497.58,1494.96 554.1,1494.96" stroke-width="3.8"/>
<polyline points="554.1,1494.96 610.62,1511.7" stroke-width="5.2"/>
<polyline points="610.62,1511.7 667.15,1511.7 723.67,1511.7 780.2,1511.7 836.72,1511.7 893.25,1511.7 949.77,1511.7 1006.3,1511.7" stroke-width="3.8"/>
<polyline points="1006.3,1511.7 1063.62,1502.93 1120.25,1315.65 1176.78,1363.94 1233.3,1366.51 1289.83,1351.98 1346.35,1439.18 1402.18,1493.32 1458.9,1495.66" stroke-width="5.2"/>
</g><g>
<circle cx="158.43" cy="1495.36" r="6.9" fill="#F4B183"/>
<circle cx="214.95" cy="1495.36" r="6.9" fill="#F4B183"/>
<circle cx="271.48" cy="1495.36" r="6.9" fill="#F4B183"/>
<circle cx="328" cy="1478.95" r="6.9" fill="#F4B183"/>
<circle cx="384.52" cy="1497" r="6.9" fill="#F4B183"/>
<circle cx="441.05" cy="1480.59" r="6.9" fill="#F4B183"/>
<circle cx="497.58" cy="1495.36" r="6.9" fill="#F4B183"/>
<circle cx="554.1" cy="1495.36" r="6.9" fill="#F4B183"/>
<circle cx="610.62" cy="1512.1" r="6.9" fill="#F4B183"/>
<circle cx="667.15" cy="1512.1" r="6.9" fill="#F4B183"/>
<circle cx="723.67" cy="1512.1" r="6.9" fill="#F4B183"/>
<circle cx="780.2" cy="1512.1" r="6.9" fill="#F4B183"/>
<circle cx="836.72" cy="1512.1" r="6.9" fill="#F4B183"/>
<circle cx="893.25" cy="1512.1" r="6.9" fill="#F4B183"/>
<circle cx="949.77" cy="1512.1" r="6.9" fill="#F4B183"/>
<circle cx="1006.3" cy="1512.1" r="6.9" fill="#F4B183"/>
<circle cx="1063.62" cy="1503.33" r="6.9" fill="#F4B183"/>
<circle cx="1120.25" cy="1316.05" r="6.9" fill="#F4B183"/>
<circle cx="1176.78" cy="1364.34" r="6.9" fill="#F4B183"/>
<circle cx="1233.3" cy="1366.91" r="6.9" fill="#F4B183"/>
<circle cx="1289.83" cy="1352.38" r="6.9" fill="#F4B183"/>
<circle cx="1346.35" cy="1439.58" r="6.9" fill="#F4B183"/>
<circle cx="1402.18" cy="1493.72" r="6.9" fill="#F4B183"/>
<circle cx="1458.9" cy="1496.06" r="6.9" fill="#F4B183"/>
</g>
<g fill="none" stroke="#ED7D31" stroke-linejoin="round" stroke-linecap="round">
<polyline points="158.43,1494.96 214.95,1494.96 271.48,1494.96" stroke-width="3.8"/>
<polyline points="271.48,1494.96 328,1478.55 384.52,1496.6 441.05,1480.19 497.58,1494.96" stroke-width="5.2"/>
<polyline points="497.58,1494.96 554.1,1494.96" stroke-width="3.8"/>
<polyline points="554.1,1494.96 610.62,1511.7" stroke-width="5.2"/>
<polyline points="610.62,1511.7 667.15,1511.7 723.67,1511.7 780.2,1511.7 836.72,1511.7 893.25,1511.7 949.77,1511.7 1006.3,1511.7" stroke-width="3.8"/>
<polyline points="1006.3,1511.7 1063.62,1502.93 1120.25,1332.76 1176.78,1384.33 1233.3,1368.86 1289.83,1351.04 1346.35,1375.66 1402.18,1418.31 1458.9,1496.13" stroke-width="5.2"/>
</g><g>
<path d="M158.43 1488.46L165.33 1502.26L151.53 1502.26Z" fill="#ED7D31"/>
<path d="M214.95 1488.46L221.85 1502.26L208.05 1502.26Z" fill="#ED7D31"/>
<path d="M271.48 1488.46L278.38 1502.26L264.58 1502.26Z" fill="#ED7D31"/>
<path d="M328 1472.05L334.9 1485.85L321.1 1485.85Z" fill="#ED7D31"/>
<path d="M384.52 1490.1L391.42 1503.9L377.62 1503.9Z" fill="#ED7D31"/>
<path d="M441.05 1473.69L447.95 1487.49L434.15 1487.49Z" fill="#ED7D31"/>
<path d="M497.58 1488.46L504.48 1502.26L490.68 1502.26Z" fill="#ED7D31"/>
<path d="M554.1 1488.46L561 1502.26L547.2 1502.26Z" fill="#ED7D31"/>
<path d="M610.62 1505.2L617.52 1519L603.73 1519Z" fill="#ED7D31"/>
<path d="M667.15 1505.2L674.05 1519L660.25 1519Z" fill="#ED7D31"/>
<path d="M723.67 1505.2L730.57 1519L716.77 1519Z" fill="#ED7D31"/>
<path d="M780.2 1505.2L787.1 1519L773.3 1519Z" fill="#ED7D31"/>
<path d="M836.72 1505.2L843.62 1519L829.82 1519Z" fill="#ED7D31"/>
<path d="M893.25 1505.2L900.15 1519L886.35 1519Z" fill="#ED7D31"/>
<path d="M949.77 1505.2L956.67 1519L942.88 1519Z" fill="#ED7D31"/>
<path d="M1006.3 1505.2L1013.2 1519L999.4 1519Z" fill="#ED7D31"/>
<path d="M1063.62 1496.43L1070.53 1510.23L1056.72 1510.23Z" fill="#ED7D31"/>
<path d="M1120.25 1326.26L1127.15 1340.06L1113.35 1340.06Z" fill="#ED7D31"/>
<path d="M1176.78 1377.83L1183.68 1391.63L1169.88 1391.63Z" fill="#ED7D31"/>
<path d="M1233.3 1362.36L1240.2 1376.16L1226.4 1376.16Z" fill="#ED7D31"/>
<path d="M1289.83 1344.54L1296.73 1358.34L1282.92 1358.34Z" fill="#ED7D31"/>
<path d="M1346.35 1369.16L1353.25 1382.96L1339.45 1382.96Z" fill="#ED7D31"/>
<path d="M1402.18 1411.81L1409.08 1425.61L1395.28 1425.61Z" fill="#ED7D31"/>
<path d="M1458.9 1489.63L1465.8 1503.43L1452 1503.43Z" fill="#ED7D31"/>
</g>
<g fill="none" stroke="#C55A11" stroke-linejoin="round" stroke-linecap="round">
<polyline points="158.43,1494.96 214.95,1494.96 271.48,1494.96" stroke-width="2.7"/>
<polyline points="271.48,1494.96 328,1478.55 384.52,1496.6 441.05,1480.19 497.58,1494.96" stroke-width="3.5"/>
<polyline points="497.58,1494.96 554.1,1494.96" stroke-width="2.7"/>
<polyline points="554.1,1494.96 610.62,1511.7" stroke-width="3.5"/>
<polyline points="610.62,1511.7 667.15,1511.7 723.67,1511.7 780.2,1511.7 836.72,1511.7 893.25,1511.7 949.77,1511.7 1006.3,1511.7" stroke-width="2.7"/>
<polyline points="1006.3,1511.7 1063.62,1502.93 1120.25,1329.25 1176.78,1391.59 1233.3,1359.72 1289.83,1340.03 1346.35,1366.28 1402.18,1383.62 1458.9,1419.72" stroke-width="3.5"/>
</g><g>
<rect x="151.53" y="1488.46" width="13.8" height="13.8" fill="#C55A11"/>
<rect x="208.05" y="1488.46" width="13.8" height="13.8" fill="#C55A11"/>
<rect x="264.58" y="1488.46" width="13.8" height="13.8" fill="#C55A11"/>
<rect x="321.1" y="1472.05" width="13.8" height="13.8" fill="#C55A11"/>
<rect x="377.62" y="1490.1" width="13.8" height="13.8" fill="#C55A11"/>
<rect x="434.15" y="1473.69" width="13.8" height="13.8" fill="#C55A11"/>
<rect x="490.68" y="1488.46" width="13.8" height="13.8" fill="#C55A11"/>
<rect x="547.2" y="1488.46" width="13.8" height="13.8" fill="#C55A11"/>
<rect x="603.73" y="1505.2" width="13.8" height="13.8" fill="#C55A11"/>
<rect x="660.25" y="1505.2" width="13.8" height="13.8" fill="#C55A11"/>
<rect x="716.77" y="1505.2" width="13.8" height="13.8" fill="#C55A11"/>
<rect x="773.3" y="1505.2" width="13.8" height="13.8" fill="#C55A11"/>
<rect x="829.82" y="1505.2" width="13.8" height="13.8" fill="#C55A11"/>
<rect x="886.35" y="1505.2" width="13.8" height="13.8" fill="#C55A11"/>
<rect x="942.88" y="1505.2" width="13.8" height="13.8" fill="#C55A11"/>
<rect x="999.4" y="1505.2" width="13.8" height="13.8" fill="#C55A11"/>
<rect x="1056.72" y="1496.43" width="13.8" height="13.8" fill="#C55A11"/>
<rect x="1113.35" y="1322.75" width="13.8" height="13.8" fill="#C55A11"/>
<rect x="1169.88" y="1385.09" width="13.8" height="13.8" fill="#C55A11"/>
<rect x="1226.4" y="1353.22" width="13.8" height="13.8" fill="#C55A11"/>
<rect x="1282.92" y="1333.53" width="13.8" height="13.8" fill="#C55A11"/>
<rect x="1339.45" y="1359.78" width="13.8" height="13.8" fill="#C55A11"/>
<rect x="1395.28" y="1377.12" width="13.8" height="13.8" fill="#C55A11"/>
<rect x="1452" y="1413.22" width="13.8" height="13.8" fill="#C55A11"/>
</g>
<g fill="none" stroke="#A9D18E" stroke-linejoin="round" stroke-linecap="round">
<polyline points="158.43,1511.7 214.95,1511.7 271.48,1511.7 328,1511.7 384.52,1511.7 441.05,1511.7 497.58,1511.7 554.1,1511.7" stroke-width="3.8"/>
<polyline points="554.1,1511.7 610.62,1453.24 667.15,1448.79 723.67,1413.39 780.2,1423.71 836.72,1275.1 893.25,1126.5 949.77,1147.59 1006.3,1380.11 1063.62,1511.7" stroke-width="5.2"/>
<polyline points="1063.62,1511.7 1120.25,1511.7 1176.78,1511.7 1233.3,1511.7 1289.83,1511.7 1346.35,1511.7 1402.18,1511.7 1458.9,1511.7" stroke-width="3.8"/>
</g><g>
<circle cx="158.43" cy="1512.1" r="6.9" fill="#A9D18E"/>
<circle cx="214.95" cy="1512.1" r="6.9" fill="#A9D18E"/>
<circle cx="271.48" cy="1512.1" r="6.9" fill="#A9D18E"/>
<circle cx="328" cy="1512.1" r="6.9" fill="#A9D18E"/>
<circle cx="384.52" cy="1512.1" r="6.9" fill="#A9D18E"/>
<circle cx="441.05" cy="1512.1" r="6.9" fill="#A9D18E"/>
<circle cx="497.58" cy="1512.1" r="6.9" fill="#A9D18E"/>
<circle cx="554.1" cy="1512.1" r="6.9" fill="#A9D18E"/>
<circle cx="610.62" cy="1453.64" r="6.9" fill="#A9D18E"/>
<circle cx="667.15" cy="1449.19" r="6.9" fill="#A9D18E"/>
<circle cx="723.67" cy="1413.79" r="6.9" fill="#A9D18E"/>
<circle cx="780.2" cy="1424.11" r="6.9" fill="#A9D18E"/>
<circle cx="836.72" cy="1275.5" r="6.9" fill="#A9D18E"/>
<circle cx="893.25" cy="1126.9" r="6.9" fill="#A9D18E"/>
<circle cx="949.77" cy="1147.99" r="6.9" fill="#A9D18E"/>
<circle cx="1006.3" cy="1380.51" r="6.9" fill="#A9D18E"/>
<circle cx="1063.62" cy="1512.1" r="6.9" fill="#A9D18E"/>
<circle cx="1120.25" cy="1512.1" r="6.9" fill="#A9D18E"/>
<circle cx="1176.78" cy="1512.1" r="6.9" fill="#A9D18E"/>
<circle cx="1233.3" cy="1512.1" r="6.9" fill="#A9D18E"/>
<circle cx="1289.83" cy="1512.1" r="6.9" fill="#A9D18E"/>
<circle cx="1346.35" cy="1512.1" r="6.9" fill="#A9D18E"/>
<circle cx="1402.18" cy="1512.1" r="6.9" fill="#A9D18E"/>
<circle cx="1458.9" cy="1512.1" r="6.9" fill="#A9D18E"/>
</g>
<g fill="none" stroke="#70AD47" stroke-linejoin="round" stroke-linecap="round">
<polyline points="158.43,1511.7 214.95,1511.7 271.48,1511.7 328,1511.7 384.52,1511.7 441.05,1511.7 497.58,1511.7 554.1,1511.7" stroke-width="3.8"/>
<polyline points="554.1,1511.7 610.62,1471.05 667.15,1479.73 723.67,1463.08 780.2,1444.57 836.72,1292.68 893.25,1124.15 949.77,1151.11 1006.3,1380.11 1063.62,1511.7" stroke-width="5.2"/>
<polyline points="1063.62,1511.7 1120.25,1511.7 1176.78,1511.7 1233.3,1511.7 1289.83,1511.7 1346.35,1511.7 1402.18,1511.7 1458.9,1511.7" stroke-width="3.8"/>
</g><g>
<path d="M158.43 1505.2L165.33 1519L151.53 1519Z" fill="#70AD47"/>
<path d="M214.95 1505.2L221.85 1519L208.05 1519Z" fill="#70AD47"/>
<path d="M271.48 1505.2L278.38 1519L264.58 1519Z" fill="#70AD47"/>
<path d="M328 1505.2L334.9 1519L321.1 1519Z" fill="#70AD47"/>
<path d="M384.52 1505.2L391.42 1519L377.62 1519Z" fill="#70AD47"/>
<path d="M441.05 1505.2L447.95 1519L434.15 1519Z" fill="#70AD47"/>
<path d="M497.58 1505.2L504.48 1519L490.68 1519Z" fill="#70AD47"/>
<path d="M554.1 1505.2L561 1519L547.2 1519Z" fill="#70AD47"/>
<path d="M610.62 1464.55L617.52 1478.35L603.73 1478.35Z" fill="#70AD47"/>
<path d="M667.15 1473.23L674.05 1487.03L660.25 1487.03Z" fill="#70AD47"/>
<path d="M723.67 1456.58L730.57 1470.38L716.77 1470.38Z" fill="#70AD47"/>
<path d="M780.2 1438.07L787.1 1451.87L773.3 1451.87Z" fill="#70AD47"/>
<path d="M836.72 1286.18L843.62 1299.98L829.82 1299.98Z" fill="#70AD47"/>
<path d="M893.25 1117.65L900.15 1131.45L886.35 1131.45Z" fill="#70AD47"/>
<path d="M949.77 1144.61L956.67 1158.41L942.88 1158.41Z" fill="#70AD47"/>
<path d="M1006.3 1373.61L1013.2 1387.41L999.4 1387.41Z" fill="#70AD47"/>
<path d="M1063.62 1505.2L1070.53 1519L1056.72 1519Z" fill="#70AD47"/>
<path d="M1120.25 1505.2L1127.15 1519L1113.35 1519Z" fill="#70AD47"/>
<path d="M1176.78 1505.2L1183.68 1519L1169.88 1519Z" fill="#70AD47"/>
<path d="M1233.3 1505.2L1240.2 1519L1226.4 1519Z" fill="#70AD47"/>
<path d="M1289.83 1505.2L1296.73 1519L1282.92 1519Z" fill="#70AD47"/>
<path d="M1346.35 1505.2L1353.25 1519L1339.45 1519Z" fill="#70AD47"/>
<path d="M1402.18 1505.2L1409.08 1519L1395.28 1519Z" fill="#70AD47"/>
<path d="M1458.9 1505.2L1465.8 1519L1452 1519Z" fill="#70AD47"/>
</g>
<g fill="none" stroke="#548235" stroke-linejoin="round" stroke-linecap="round">
<polyline points="158.43,1511.7 214.95,1511.7 271.48,1511.7 328,1511.7 384.52,1511.7 441.05,1511.7 497.58,1511.7 554.1,1511.7" stroke-width="3.8"/>
<polyline points="554.1,1511.7 610.62,1485.82 667.15,1497.31 723.67,1511.7 780.2,1499.65 836.72,1353.39 893.25,1127.67 949.77,1151.81 1006.3,1380.11 1063.62,1511.7" stroke-width="5.2"/>
<polyline points="1063.62,1511.7 1120.25,1511.7 1176.78,1511.7 1233.3,1511.7 1289.83,1511.7 1346.35,1511.7 1402.18,1511.7 1458.9,1511.7" stroke-width="3.8"/>
</g><g>
<rect x="151.53" y="1505.2" width="13.8" height="13.8" fill="#548235"/>
<rect x="208.05" y="1505.2" width="13.8" height="13.8" fill="#548235"/>
<rect x="264.58" y="1505.2" width="13.8" height="13.8" fill="#548235"/>
<rect x="321.1" y="1505.2" width="13.8" height="13.8" fill="#548235"/>
<rect x="377.62" y="1505.2" width="13.8" height="13.8" fill="#548235"/>
<rect x="434.15" y="1505.2" width="13.8" height="13.8" fill="#548235"/>
<rect x="490.68" y="1505.2" width="13.8" height="13.8" fill="#548235"/>
<rect x="547.2" y="1505.2" width="13.8" height="13.8" fill="#548235"/>
<rect x="603.73" y="1479.32" width="13.8" height="13.8" fill="#548235"/>
<rect x="660.25" y="1490.81" width="13.8" height="13.8" fill="#548235"/>
<rect x="716.77" y="1505.2" width="13.8" height="13.8" fill="#548235"/>
<rect x="773.3" y="1493.15" width="13.8" height="13.8" fill="#548235"/>
<rect x="829.82" y="1346.89" width="13.8" height="13.8" fill="#548235"/>
<rect x="886.35" y="1121.17" width="13.8" height="13.8" fill="#548235"/>
<rect x="942.88" y="1145.31" width="13.8" height="13.8" fill="#548235"/>
<rect x="999.4" y="1373.61" width="13.8" height="13.8" fill="#548235"/>
<rect x="1056.72" y="1505.2" width="13.8" height="13.8" fill="#548235"/>
<rect x="1113.35" y="1505.2" width="13.8" height="13.8" fill="#548235"/>
<rect x="1169.88" y="1505.2" width="13.8" height="13.8" fill="#548235"/>
<rect x="1226.4" y="1505.2" width="13.8" height="13.8" fill="#548235"/>
<rect x="1282.92" y="1505.2" width="13.8" height="13.8" fill="#548235"/>
<rect x="1339.45" y="1505.2" width="13.8" height="13.8" fill="#548235"/>
<rect x="1395.28" y="1505.2" width="13.8" height="13.8" fill="#548235"/>
<rect x="1452" y="1505.2" width="13.8" height="13.8" fill="#548235"/>
</g>
<path d="M201.9 917.8H249.2" stroke="#00B0F0" stroke-width="3.8" stroke-linecap="round"/>
<circle cx="224.2" cy="917.3" r="6.9" fill="#00B0F0"/>
<path d="M201.9 964.3H249.2" stroke="#0070C0" stroke-width="3.8" stroke-linecap="round"/>
<path d="M224.2 956.9L231.1 970.7L217.3 970.7Z" fill="#0070C0"/>
<path d="M201.9 1010.4H249.2" stroke="#2F5597" stroke-width="3.8" stroke-linecap="round"/>
<rect x="217.3" y="1003" width="13.8" height="13.8" fill="#2F5597"/>
<path d="M201.9 1056.6H249.2" stroke="#F4B183" stroke-width="3.8" stroke-linecap="round"/>
<circle cx="224.2" cy="1056.1" r="6.9" fill="#F4B183"/>
<path d="M201.9 1103.2H249.2" stroke="#ED7D31" stroke-width="3.8" stroke-linecap="round"/>
<path d="M224.2 1095.8L231.1 1109.6L217.3 1109.6Z" fill="#ED7D31"/>
<path d="M201.9 1149.5H249.2" stroke="#C55A11" stroke-width="2.7" stroke-linecap="round"/>
<rect x="217.3" y="1142.1" width="13.8" height="13.8" fill="#C55A11"/>
<path d="M201.9 1196.2H249.2" stroke="#A9D18E" stroke-width="3.8" stroke-linecap="round"/>
<circle cx="224.2" cy="1195.7" r="6.9" fill="#A9D18E"/>
<path d="M201.9 1242.4H249.2" stroke="#70AD47" stroke-width="3.8" stroke-linecap="round"/>
<path d="M224.2 1235L231.1 1248.8L217.3 1248.8Z" fill="#70AD47"/>
<path d="M201.9 1288.6H249.2" stroke="#548235" stroke-width="3.8" stroke-linecap="round"/>
<rect x="217.3" y="1281.2" width="13.8" height="13.8" fill="#548235"/>
</g>
<g id="txt" style="filter:grayscale(1)">
<text x="124" y="624.58" font-size="23.4" font-family="Liberation Sans, sans-serif" font-weight="bold" text-anchor="end" textLength="13.35" lengthAdjust="spacingAndGlyphs">0</text>
<text x="124" y="537.94" font-size="23.4" font-family="Liberation Sans, sans-serif" font-weight="bold" text-anchor="end" textLength="13.35" lengthAdjust="spacingAndGlyphs">4</text>
<text x="124" y="451.31" font-size="23.4" font-family="Liberation Sans, sans-serif" font-weight="bold" text-anchor="end" textLength="13.35" lengthAdjust="spacingAndGlyphs">8</text>
<text x="124" y="364.67" font-size="23.4" font-family="Liberation Sans, sans-serif" font-weight="bold" text-anchor="end" textLength="26.7" lengthAdjust="spacingAndGlyphs">12</text>
<text x="124" y="278.03" font-size="23.4" font-family="Liberation Sans, sans-serif" font-weight="bold" text-anchor="end" textLength="26.7" lengthAdjust="spacingAndGlyphs">16</text>
<text x="124" y="191.4" font-size="23.4" font-family="Liberation Sans, sans-serif" font-weight="bold" text-anchor="end" textLength="26.7" lengthAdjust="spacingAndGlyphs">20</text>
<text x="124" y="104.76" font-size="23.4" font-family="Liberation Sans, sans-serif" font-weight="bold" text-anchor="end" textLength="26.7" lengthAdjust="spacingAndGlyphs">24</text>
<text x="124" y="18.13" font-size="23.4" font-family="Liberation Sans, sans-serif" font-weight="bold" text-anchor="end" textLength="26.7" lengthAdjust="spacingAndGlyphs">28</text>
<text x="148.9" y="659.7" font-size="23.4" font-family="Liberation Sans, sans-serif" font-weight="bold" text-anchor="middle" textLength="13.35" lengthAdjust="spacingAndGlyphs">0</text>
<text x="253.49" y="659.7" font-size="23.4" font-family="Liberation Sans, sans-serif" font-weight="bold" text-anchor="middle" textLength="13.35" lengthAdjust="spacingAndGlyphs">2</text>
<text x="358.08" y="659.7" font-size="23.4" font-family="Liberation Sans, sans-serif" font-weight="bold" text-anchor="middle" textLength="13.35" lengthAdjust="spacingAndGlyphs">4</text>
<text x="462.67" y="659.7" font-size="23.4" font-family="Liberation Sans, sans-serif" font-weight="bold" text-anchor="middle" textLength="13.35" lengthAdjust="spacingAndGlyphs">6</text>
<text x="567.27" y="659.7" font-size="23.4" font-family="Liberation Sans, sans-serif" font-weight="bold" text-anchor="middle" textLength="13.35" lengthAdjust="spacingAndGlyphs">8</text>
<text x="672.71" y="659.7" font-size="23.4" font-family="Liberation Sans, sans-serif" font-weight="bold" text-anchor="middle" textLength="26.7" lengthAdjust="spacingAndGlyphs">10</text>
<text x="777.3" y="659.7" font-size="23.4" font-family="Liberation Sans, sans-serif" font-weight="bold" text-anchor="middle" textLength="26.7" lengthAdjust="spacingAndGlyphs">12</text>
<text x="881.89" y="659.7" font-size="23.4" font-family="Liberation Sans, sans-serif" font-weight="bold" text-anchor="middle" textLength="26.7" lengthAdjust="spacingAndGlyphs">14</text>
<text x="986.48" y="659.7" font-size="23.4" font-family="Liberation Sans, sans-serif" font-weight="bold" text-anchor="middle" textLength="26.7" lengthAdjust="spacingAndGlyphs">16</text>
<text x="1091.07" y="659.7" font-size="23.4" font-family="Liberation Sans, sans-serif" font-weight="bold" text-anchor="middle" textLength="26.7" lengthAdjust="spacingAndGlyphs">18</text>
<text x="1195.42" y="659.7" font-size="23.4" font-family="Liberation Sans, sans-serif" font-weight="bold" text-anchor="middle" textLength="26.7" lengthAdjust="spacingAndGlyphs">20</text>
<text x="1300.01" y="659.7" font-size="23.4" font-family="Liberation Sans, sans-serif" font-weight="bold" text-anchor="middle" textLength="26.7" lengthAdjust="spacingAndGlyphs">22</text>
<text x="1404.6" y="659.7" font-size="23.4" font-family="Liberation Sans, sans-serif" font-weight="bold" text-anchor="middle" textLength="26.7" lengthAdjust="spacingAndGlyphs">24</text>
<text x="776.2" y="699.4" font-size="24.7" font-family="Liberation Sans, sans-serif" font-weight="bold" text-anchor="middle" textLength="90.5" lengthAdjust="spacingAndGlyphs">Time (h)</text>
<text transform="translate(74.4 318.5) rotate(-90)" x="0" y="0" font-size="24.8" font-family="Liberation Sans, sans-serif" font-weight="bold" text-anchor="middle" textLength="129.8" lengthAdjust="spacingAndGlyphs">Power (kW)</text>
<text x="288.9" y="76.1" font-size="23" font-family="Liberation Sans, sans-serif" font-weight="bold" textLength="194.5" lengthAdjust="spacingAndGlyphs">P_COR_DER_10EVs</text>
<text x="288.9" y="118.8" font-size="23" font-family="Liberation Sans, sans-serif" font-weight="bold" textLength="194.5" lengthAdjust="spacingAndGlyphs">P_COR_DER_20EVs</text>
<text x="288.9" y="161.7" font-size="23" font-family="Liberation Sans, sans-serif" font-weight="bold" textLength="194.5" lengthAdjust="spacingAndGlyphs">P_COR_DER_30EVs</text>
<text x="288.9" y="205" font-size="23" font-family="Liberation Sans, sans-serif" font-weight="bold" textLength="182" lengthAdjust="spacingAndGlyphs">P_COR_GR_10EVs</text>
<text x="288.9" y="247.7" font-size="23" font-family="Liberation Sans, sans-serif" font-weight="bold" textLength="182" lengthAdjust="spacingAndGlyphs">P_COR_GR_20EVs</text>
<text x="288.9" y="290" font-size="23" font-family="Liberation Sans, sans-serif" font-weight="bold" textLength="182" lengthAdjust="spacingAndGlyphs">P_COR_GR_30EVs</text>
<text x="288.9" y="333.2" font-size="23" font-family="Liberation Sans, sans-serif" font-weight="bold" textLength="179.8" lengthAdjust="spacingAndGlyphs">P_DER_GR_10EVs</text>
<text x="288.9" y="376" font-size="23" font-family="Liberation Sans, sans-serif" font-weight="bold" textLength="179.8" lengthAdjust="spacingAndGlyphs">P_DER_GR_20EVs</text>
<text x="288.9" y="419.2" font-size="23" font-family="Liberation Sans, sans-serif" font-weight="bold" textLength="179.8" lengthAdjust="spacingAndGlyphs">P_DER_GR_30EVs</text>
<text x="1134.6" y="79.2" font-size="24.6" font-family="Liberation Sans, sans-serif" font-weight="bold" text-anchor="start" textLength="46.5" lengthAdjust="spacingAndGlyphs">G2V</text>
<text x="1253" y="79.2" font-size="24.6" font-family="Liberation Sans, sans-serif" font-weight="bold" text-anchor="end" textLength="64.2" lengthAdjust="spacingAndGlyphs">Mode</text>
<text x="736.9" y="781" font-size="39.8" font-family="Liberation Serif, serif" text-anchor="middle" textLength="45.05" lengthAdjust="spacingAndGlyphs">(a)</text>
<text x="74.4" y="1519.86" font-size="25.6" font-family="Liberation Sans, sans-serif" font-weight="bold" text-anchor="end" textLength="14.45" lengthAdjust="spacingAndGlyphs">0</text>
<text x="74.4" y="1426.1" font-size="25.6" font-family="Liberation Sans, sans-serif" font-weight="bold" text-anchor="end" textLength="14.45" lengthAdjust="spacingAndGlyphs">4</text>
<text x="74.4" y="1332.34" font-size="25.6" font-family="Liberation Sans, sans-serif" font-weight="bold" text-anchor="end" textLength="14.45" lengthAdjust="spacingAndGlyphs">8</text>
<text x="74.4" y="1238.57" font-size="25.6" font-family="Liberation Sans, sans-serif" font-weight="bold" text-anchor="end" textLength="28.9" lengthAdjust="spacingAndGlyphs">12</text>
<text x="74.4" y="1144.81" font-size="25.6" font-family="Liberation Sans, sans-serif" font-weight="bold" text-anchor="end" textLength="28.9" lengthAdjust="spacingAndGlyphs">16</text>
<text x="74.4" y="1051.04" font-size="25.6" font-family="Liberation Sans, sans-serif" font-weight="bold" text-anchor="end" textLength="28.9" lengthAdjust="spacingAndGlyphs">20</text>
<text x="74.4" y="957.28" font-size="25.6" font-family="Liberation Sans, sans-serif" font-weight="bold" text-anchor="end" textLength="28.9" lengthAdjust="spacingAndGlyphs">24</text>
<text x="74.4" y="863.51" font-size="25.6" font-family="Liberation Sans, sans-serif" font-weight="bold" text-anchor="end" textLength="28.9" lengthAdjust="spacingAndGlyphs">28</text>
<text x="101.9" y="1557.4" font-size="25.6" font-family="Liberation Sans, sans-serif" font-weight="bold" text-anchor="middle" textLength="14.45" lengthAdjust="spacingAndGlyphs">0</text>
<text x="214.95" y="1557.4" font-size="25.6" font-family="Liberation Sans, sans-serif" font-weight="bold" text-anchor="middle" textLength="14.45" lengthAdjust="spacingAndGlyphs">2</text>
<text x="328" y="1557.4" font-size="25.6" font-family="Liberation Sans, sans-serif" font-weight="bold" text-anchor="middle" textLength="14.45" lengthAdjust="spacingAndGlyphs">4</text>
<text x="441.05" y="1557.4" font-size="25.6" font-family="Liberation Sans, sans-serif" font-weight="bold" text-anchor="middle" textLength="14.45" lengthAdjust="spacingAndGlyphs">6</text>
<text x="554.1" y="1557.4" font-size="25.6" font-family="Liberation Sans, sans-serif" font-weight="bold" text-anchor="middle" textLength="14.45" lengthAdjust="spacingAndGlyphs">8</text>
<text x="668" y="1557.4" font-size="25.6" font-family="Liberation Sans, sans-serif" font-weight="bold" text-anchor="middle" textLength="28.9" lengthAdjust="spacingAndGlyphs">10</text>
<text x="781.05" y="1557.4" font-size="25.6" font-family="Liberation Sans, sans-serif" font-weight="bold" text-anchor="middle" textLength="28.9" lengthAdjust="spacingAndGlyphs">12</text>
<text x="894.1" y="1557.4" font-size="25.6" font-family="Liberation Sans, sans-serif" font-weight="bold" text-anchor="middle" textLength="28.9" lengthAdjust="spacingAndGlyphs">14</text>
<text x="1007.15" y="1557.4" font-size="25.6" font-family="Liberation Sans, sans-serif" font-weight="bold" text-anchor="middle" textLength="28.9" lengthAdjust="spacingAndGlyphs">16</text>
<text x="1120.2" y="1557.4" font-size="25.6" font-family="Liberation Sans, sans-serif" font-weight="bold" text-anchor="middle" textLength="28.9" lengthAdjust="spacingAndGlyphs">18</text>
<text x="1233" y="1557.4" font-size="25.6" font-family="Liberation Sans, sans-serif" font-weight="bold" text-anchor="middle" textLength="28.9" lengthAdjust="spacingAndGlyphs">20</text>
<text x="1346.05" y="1557.4" font-size="25.6" font-family="Liberation Sans, sans-serif" font-weight="bold" text-anchor="middle" textLength="28.9" lengthAdjust="spacingAndGlyphs">22</text>
<text x="1459.1" y="1557.4" font-size="25.6" font-family="Liberation Sans, sans-serif" font-weight="bold" text-anchor="middle" textLength="28.9" lengthAdjust="spacingAndGlyphs">24</text>
<text x="780" y="1599.7" font-size="26.8" font-family="Liberation Sans, sans-serif" font-weight="bold" text-anchor="middle" textLength="99.2" lengthAdjust="spacingAndGlyphs">Time (h)</text>
<text transform="translate(21.8 1188.5) rotate(-90)" x="0" y="0" font-size="27.2" font-family="Liberation Sans, sans-serif" font-weight="bold" text-anchor="middle" textLength="139.5" lengthAdjust="spacingAndGlyphs">Power (kW)</text>
<text x="252.7" y="925.9" font-size="25" font-family="Liberation Sans, sans-serif" font-weight="bold" textLength="211" lengthAdjust="spacingAndGlyphs">P_COR_DER_10EVs</text>
<text x="252.7" y="972.4" font-size="25" font-family="Liberation Sans, sans-serif" font-weight="bold" textLength="211" lengthAdjust="spacingAndGlyphs">P_COR_DER_20EVs</text>
<text x="252.7" y="1018.5" font-size="25" font-family="Liberation Sans, sans-serif" font-weight="bold" textLength="211" lengthAdjust="spacingAndGlyphs">P_COR_DER_30EVs</text>
<text x="252.7" y="1064.7" font-size="25" font-family="Liberation Sans, sans-serif" font-weight="bold" textLength="198" lengthAdjust="spacingAndGlyphs">P_COR_GR_10EVs</text>
<text x="252.7" y="1111.3" font-size="25" font-family="Liberation Sans, sans-serif" font-weight="bold" textLength="198" lengthAdjust="spacingAndGlyphs">P_COR_GR_20EVs</text>
<text x="252.7" y="1157.6" font-size="25" font-family="Liberation Sans, sans-serif" font-weight="bold" textLength="198" lengthAdjust="spacingAndGlyphs">P_COR_GR_30EVs</text>
<text x="252.7" y="1204.3" font-size="25" font-family="Liberation Sans, sans-serif" font-weight="bold" textLength="195.6" lengthAdjust="spacingAndGlyphs">P_DER_GR_10EVs</text>
<text x="252.7" y="1250.5" font-size="25" font-family="Liberation Sans, sans-serif" font-weight="bold" textLength="195.6" lengthAdjust="spacingAndGlyphs">P_DER_GR_20EVs</text>
<text x="252.7" y="1296.7" font-size="25" font-family="Liberation Sans, sans-serif" font-weight="bold" textLength="195.6" lengthAdjust="spacingAndGlyphs">P_DER_GR_30EVs</text>
<text x="1076.2" y="934.2" font-size="26.6" font-family="Liberation Sans, sans-serif" font-weight="bold" text-anchor="start" textLength="112.5" lengthAdjust="spacingAndGlyphs">V2G_DRS</text>
<text x="1271" y="934.2" font-size="26.6" font-family="Liberation Sans, sans-serif" font-weight="bold" text-anchor="end" textLength="70.2" lengthAdjust="spacingAndGlyphs">Mode</text>
<text x="736.9" y="1682" font-size="39.8" font-family="Liberation Serif, serif" text-anchor="middle" textLength="47.1" lengthAdjust="spacingAndGlyphs">(b)</text>
</g>
</svg>
</body></html>
